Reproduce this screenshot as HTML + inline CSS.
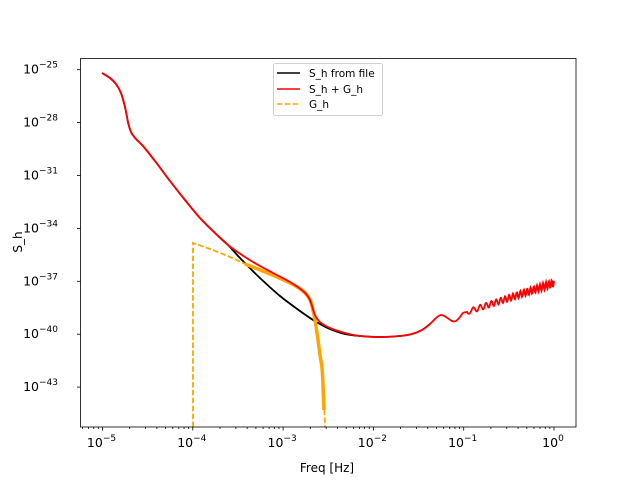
<!DOCTYPE html>
<html><head><meta charset="utf-8"><style>
body{margin:0;background:#fff;}
svg text{font-family:"DejaVu Sans","Liberation Sans",sans-serif;fill:#000;}
</style></head><body>
<svg id="s" width="640" height="480" xmlns="http://www.w3.org/2000/svg">
<rect width="640" height="480" fill="#fff"/>
<g id="ticks" stroke="#000" stroke-width="0.8"></g>
<g id="labels" font-size="12.5"></g>
<path id="blk" fill="none" stroke="#000" stroke-width="1.8"/>
<path id="or1" fill="none" stroke="#ffa500" stroke-width="1.8" stroke-dasharray="5.5,2.4"/>
<path id="or2" fill="none" stroke="#ffa500" stroke-width="3.5"/>
<path id="red" fill="none" stroke="#ff0000" stroke-width="1.8"/>
<rect x="80.5" y="58.5" width="495.5" height="368.5" fill="none" stroke="#000" stroke-width="0.8"/>
<g font-size="10.5">
<rect x="273.5" y="63.5" width="109" height="52" rx="2" fill="#fff" stroke="#ccc" stroke-opacity="0.9"/>
<line x1="277" y1="73" x2="300" y2="73" stroke="#000" stroke-width="1.5"/>
<text x="309" y="77">S_h from file</text>
<line x1="277" y1="89" x2="300" y2="89" stroke="#f00" stroke-width="1.5"/>
<text x="309" y="93">S_h + G_h</text>
<line x1="277" y1="104" x2="300" y2="104" stroke="#ffa500" stroke-width="1.5" stroke-dasharray="5.5,2.4"/>
<text x="309" y="108">G_h</text>
</g>
<text x="327" y="472" font-size="12" text-anchor="middle">Freq [Hz]</text>
<text x="0" y="0" font-size="12" text-anchor="middle" transform="translate(22,242) rotate(-90)">S_h</text>
</svg>
<script>
var ns="http://www.w3.org/2000/svg";
var X=function(d){return 102.5+(d+5)*90.3;};
var tk=document.getElementById('ticks'),lb=document.getElementById('labels');
function line(x1,y1,x2,y2){var l=document.createElementNS(ns,'line');l.setAttribute('x1',x1);l.setAttribute('y1',y1);l.setAttribute('x2',x2);l.setAttribute('y2',y2);tk.appendChild(l);}
function txt(x,y,base,exp,anchor){var t=document.createElementNS(ns,'text');t.setAttribute('x',x);t.setAttribute('y',y);t.setAttribute('text-anchor',anchor);t.innerHTML=base+'<tspan font-size="9" dy="-6">'+exp+'</tspan>';lb.appendChild(t);}
for(var d=-6;d<=0;d++){
 if(d>=-5){var x=X(d);line(x,427,x,430.5);txt(x-1,447,'10',d==0?'0':'\u2212'+(-d),'middle');}
 for(var m=2;m<10;m++){var xm=X(d+Math.log10(m));if(xm>80.5&&xm<576)line(xm,427,xm,429);}
}
var ys=[25,28,31,34,37,40,43];
ys.forEach(function(e,i){var y=69.7+i*52.9;line(77,y,80.5,y);txt(58,y+4,'10','\u2212'+e,'end');});
function smooth(p){var s='M'+p[0][0]+','+p[0][1];for(var i=0;i<p.length-1;i++){var p0=p[Math.max(0,i-1)],p1=p[i],p2=p[i+1],p3=p[Math.min(p.length-1,i+2)];
 var c1x=p1[0]+(p2[0]-p0[0])/6,c1y=p1[1]+(p2[1]-p0[1])/6,c2x=p2[0]-(p3[0]-p1[0])/6,c2y=p2[1]-(p3[1]-p1[1])/6;
 s+=' C'+c1x.toFixed(1)+','+c1y.toFixed(1)+' '+c2x.toFixed(1)+','+c2y.toFixed(1)+' '+p2[0]+','+p2[1];}return s;}
var head=[[102,73],[110,78],[116,84],[121,93],[125,107],[128,122],[131,132],[136,139],[143,146],[155,161],[170,181],[185,200],[200,218],[215,233],[228,245]];
var redP=head.concat([[245,257],[260,266],[275,274],[290,282],[303,291],[309,298],[312,306],[315,315],[320,322],[330,328],[345,333],[360,336],[380,337],[400,336],[412,334],[422,330],[430,324],[436,318],[441,315],[446,317],[452,321],[456,321],[460,317],[463,313],[467,312]]);
var d=smooth(redP);
for(var x=467;x<=554;x+=0.5){
 var base=312-(x-467)*(312-283)/(554-467);
 var ph=Math.pow(x-455,1.6)*0.09;
 var amp=2.5+(x-467)*0.015;
 d+=' L'+x+','+(base+amp*Math.cos(ph)).toFixed(1);
}
document.getElementById('red').setAttribute('d',d);
document.getElementById('blk').setAttribute('d',smooth(head.concat([[240,258],[260,278],[280,296],[300,311],[313,320],[320,324],[330,329],[345,334],[360,336],[380,337],[400,336],[412,334],[422,330],[430,324]])));
var orP=[[193,243],[210,249],[230,257],[250,266],[270,274],[290,283],[303,291],[309,298],[312,306],[315,320],[318,340],[320,355],[322,368],[323,385],[324,400],[325,427]];
document.getElementById('or1').setAttribute('d','M193,427 L193,243 '+smooth(orP).replace(/^M[^ ]+/,'L193,243'));
document.getElementById('or2').setAttribute('d',smooth([[245,264],[270,274],[290,283],[303,291],[309,298],[312,306],[315,320],[318,340],[320,355],[322,368],[323,385],[324,410]]));
</script>
</body></html>
